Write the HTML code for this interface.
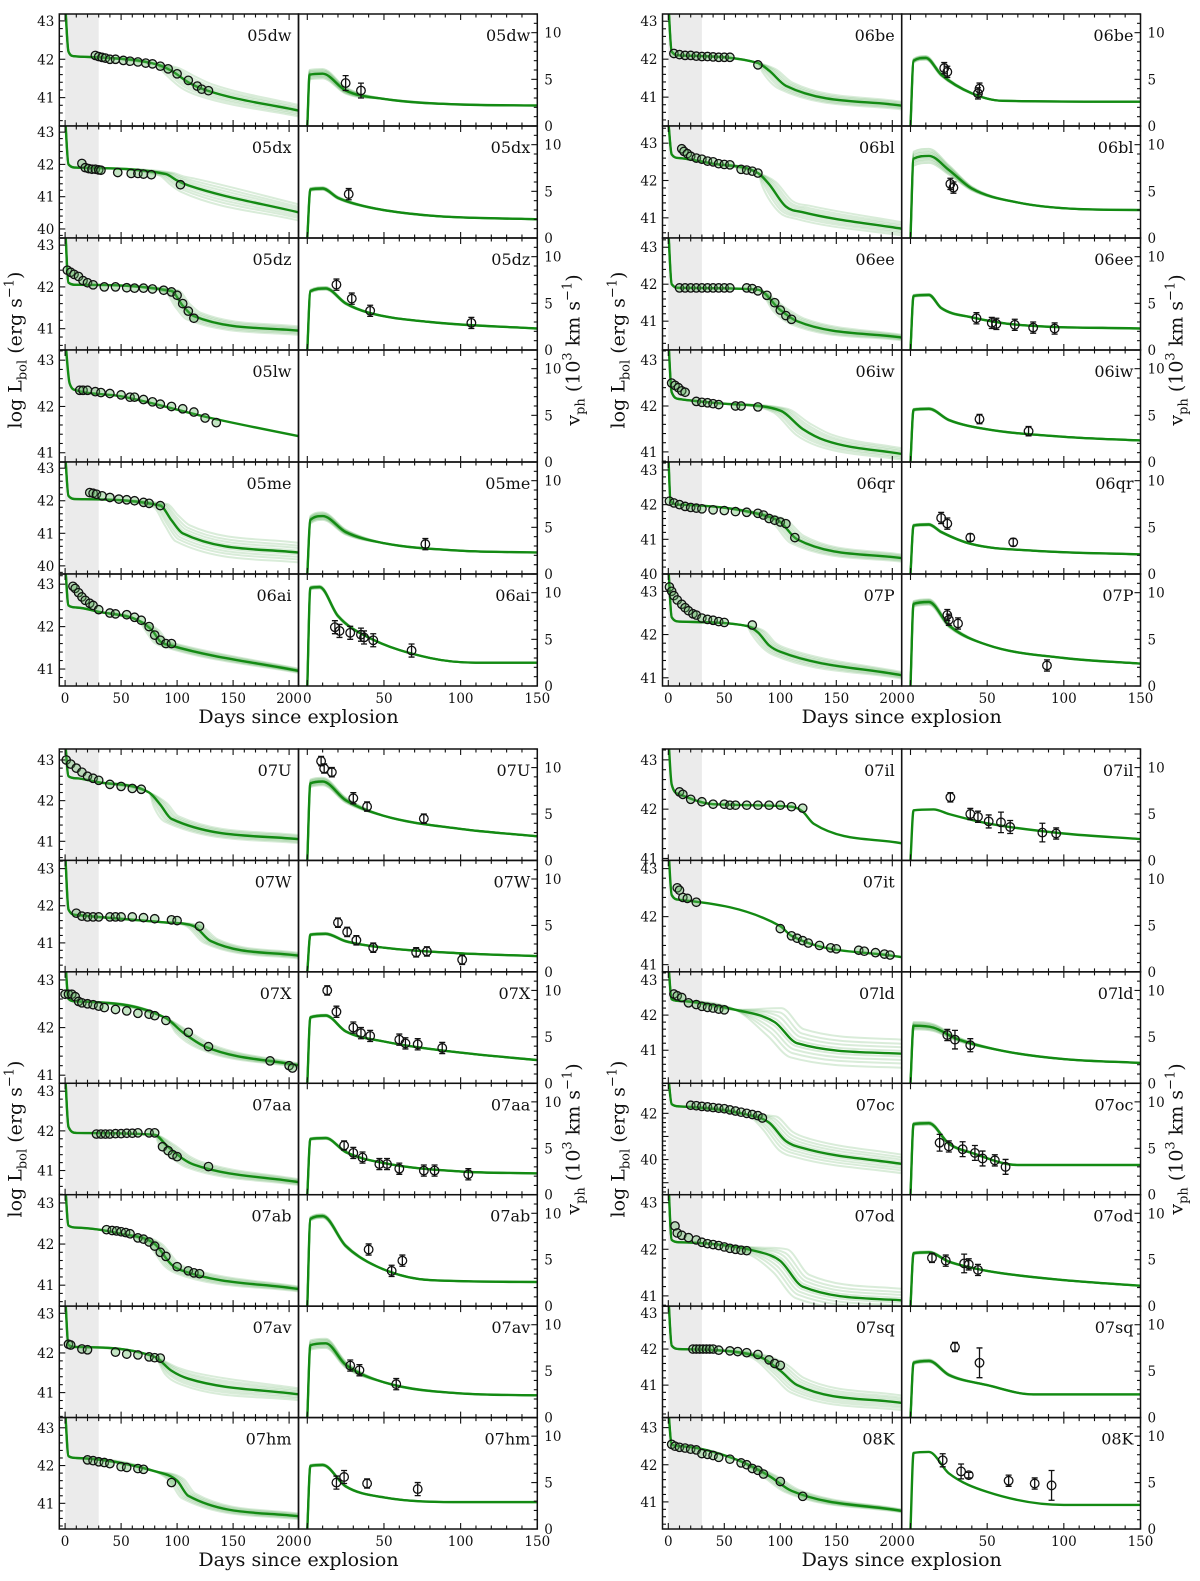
<!DOCTYPE html>
<html><head><meta charset="utf-8">
<style>
html,body{margin:0;padding:0;background:#fff;}
svg{display:block;}
text{font-family:"DejaVu Serif","Liberation Serif",serif;fill:#111;}
</style></head>
<body>
<svg id="fig" xmlns="http://www.w3.org/2000/svg" width="1200" height="1581" viewBox="0 0 1200 1581"></svg>
<script>
// ---------- DATA ----------
const snNames = ["05dw","05dx","05dz","05lw","05me","06ai","06be","06bl","06ee","06iw","06qr","07P",
  "07U","07W","07X","07aa","07ab","07av","07hm","07il","07it","07ld","07oc","07od","07sq","08K"];
const lumRanges = [[40.26,43.18],[39.72,43.19],[40.49,43.17],[40.8,43.22],[39.75,43.19],[40.6,43.24],
  [40.24,43.19],[40.46,43.46],[40.22,43.25],[40.78,43.22],[40.0,43.23],[40.81,43.4],
  [40.53,43.27],[40.22,43.22],[40.83,43.17],[40.39,43.2],[40.49,43.2],[40.37,43.18],[40.32,43.27],
  [40.96,43.22],[40.85,43.17],[40.06,43.23],[38.48,43.3],[40.78,43.17],[40.1,43.19],[40.27,43.27]];
const lumTicks = [[41,42,43],[40,41,42,43],[41,42,43],[41,42,43],[40,41,42,43],[41,42,43],
  [41,42,43],[41,42,43],[41,42,43],[41,42,43],[40,41,42,43],[41,42,43],
  [41,42,43],[41,42,43],[41,42,43],[41,42,43],[41,42,43],[41,42,43],[41,42,43],
  [41,42,43],[41,42,43],[41,42,43],[40,42],[41,42,43],[41,42,43],[41,42,43]];
const lumObs = [
 [[27,42.1],[30,42.07],[33,42.05],[36,42.03],[40,42.0],[45,42.0],[52,41.97],[58,41.95],[65,41.93],[72,41.9],[78,41.88],[85,41.82],[92,41.75],[100,41.62],[110,41.45],[118,41.3],[122,41.22],[128,41.18]],
 [[15,42.03],[18,41.9],[21,41.87],[24,41.85],[27,41.85],[30,41.83],[32,41.82],[47,41.75],[59,41.72],[65,41.72],[70,41.7],[77,41.68],[103,41.37]],
 [[2,42.4],[5,42.35],[8,42.3],[12,42.25],[16,42.15],[20,42.1],[25,42.05],[35,42.0],[45,42.0],[55,41.98],[62,41.97],[70,41.97],[78,41.95],[88,41.92],[95,41.88],[100,41.8],[105,41.6],[110,41.42],[115,41.25]],
 [[13,42.35],[16,42.35],[20,42.35],[27,42.32],[32,42.3],[40,42.28],[50,42.25],[58,42.2],[62,42.2],[70,42.15],[78,42.1],[85,42.05],[95,42.0],[105,41.95],[115,41.88],[125,41.75],[135,41.65]],
 [[22,42.25],[25,42.23],[28,42.2],[33,42.15],[40,42.1],[48,42.05],[55,42.03],[62,42.0],[70,41.95],[75,41.92],[85,41.85]],
 [[7,42.95],[9,42.9],[12,42.8],[15,42.7],[18,42.62],[22,42.55],[25,42.5],[30,42.4],[40,42.32],[45,42.3],[55,42.28],[62,42.22],[68,42.15],[75,42.0],[80,41.8],[85,41.68],[90,41.6],[95,41.6]],
 [[5,42.15],[10,42.12],[15,42.1],[20,42.1],[25,42.08],[30,42.07],[35,42.07],[40,42.06],[45,42.05],[50,42.05],[55,42.05],[80,41.85]],
 [[12,42.85],[14,42.78],[17,42.72],[20,42.65],[25,42.6],[30,42.57],[35,42.52],[40,42.5],[45,42.45],[50,42.43],[55,42.42],[65,42.3],[70,42.28],[75,42.25],[80,42.2]],
 [[10,41.9],[15,41.9],[20,41.9],[25,41.9],[30,41.9],[35,41.9],[40,41.9],[45,41.9],[50,41.9],[55,41.9],[70,41.9],[75,41.88],[80,41.82],[88,41.7],[95,41.5],[100,41.3],[105,41.15],[110,41.05]],
 [[3,42.5],[6,42.45],[9,42.4],[12,42.33],[15,42.3],[25,42.1],[30,42.08],[35,42.07],[40,42.05],[45,42.03],[60,42.0],[65,42.0],[80,41.98]],
 [[1,42.1],[5,42.05],[10,42.0],[15,41.95],[20,41.92],[25,41.9],[30,41.88],[40,41.85],[50,41.83],[60,41.8],[70,41.78],[80,41.75],[85,41.7],[90,41.6],[95,41.55],[100,41.5],[105,41.45],[113,41.05]],
 [[1,43.1],[3,43.0],[5,42.9],[8,42.8],[12,42.7],[15,42.62],[18,42.55],[22,42.48],[25,42.45],[30,42.38],[35,42.35],[40,42.33],[45,42.3],[50,42.28],[75,42.22]],
 [[1,43.0],[5,42.9],[10,42.8],[15,42.7],[20,42.6],[25,42.55],[30,42.5],[40,42.4],[50,42.35],[60,42.3],[68,42.28]],
 [[10,41.8],[15,41.72],[20,41.7],[25,41.7],[30,41.7],[40,41.7],[45,41.7],[50,41.7],[60,41.7],[70,41.68],[80,41.65],[95,41.62],[100,41.6],[120,41.45]],
 [[0,42.7],[3,42.7],[6,42.7],[9,42.65],[12,42.55],[15,42.52],[20,42.5],[25,42.48],[30,42.45],[35,42.42],[45,42.38],[55,42.35],[65,42.3],[75,42.28],[80,42.25],[90,42.15],[110,41.9],[128,41.6],[183,41.3],[200,41.2],[203,41.15]],
 [[28,41.92],[32,41.92],[36,41.92],[40,41.92],[45,41.93],[50,41.93],[55,41.94],[60,41.94],[65,41.95],[75,41.95],[80,41.95],[87,41.6],[92,41.5],[96,41.4],[100,41.35],[128,41.1]],
 [[37,42.35],[42,42.33],[46,42.32],[50,42.3],[54,42.28],[58,42.25],[65,42.15],[70,42.12],[75,42.05],[80,41.95],[85,41.8],[90,41.7],[100,41.45],[110,41.35],[115,41.3],[120,41.28]],
 [[3,42.22],[5,42.2],[15,42.1],[20,42.08],[45,42.02],[55,41.97],[65,41.95],[75,41.9],[80,41.88],[85,41.87]],
 [[20,42.15],[25,42.13],[30,42.1],[35,42.08],[40,42.05],[50,41.97],[55,41.95],[65,41.92],[70,41.9],[95,41.55]],
 [[10,42.35],[13,42.3],[20,42.2],[30,42.15],[40,42.1],[50,42.1],[55,42.08],[60,42.08],[70,42.08],[80,42.08],[90,42.08],[100,42.08],[110,42.05],[120,42.02]],
 [[8,42.6],[10,42.55],[13,42.4],[17,42.38],[25,42.3],[100,41.75],[110,41.6],[115,41.55],[120,41.5],[125,41.45],[135,41.4],[145,41.35],[150,41.33],[170,41.3],[175,41.28],[185,41.25],[193,41.22],[198,41.2]],
 [[5,42.6],[8,42.55],[12,42.5],[18,42.35],[25,42.3],[30,42.25],[35,42.22],[40,42.2],[45,42.17],[50,42.15]],
 [[20,42.35],[25,42.33],[30,42.3],[35,42.28],[40,42.25],[45,42.22],[50,42.2],[55,42.15],[60,42.1],[65,42.05],[70,42.0],[75,41.95],[80,41.9],[84,41.8]],
 [[6,42.5],[8,42.35],[12,42.3],[18,42.25],[25,42.2],[30,42.15],[35,42.12],[40,42.1],[45,42.08],[50,42.05],[55,42.02],[60,42.0],[65,41.98],[70,41.97]],
 [[22,42.0],[25,42.0],[28,42.0],[31,42.0],[34,42.0],[37,42.0],[40,42.0],[45,41.97],[55,41.95],[62,41.93],[70,41.9],[80,41.85],[90,41.7],[95,41.6],[100,41.55]],
 [[3,42.55],[6,42.5],[10,42.47],[15,42.45],[20,42.42],[25,42.4],[30,42.3],[35,42.28],[40,42.25],[45,42.2],[55,42.15],[65,42.05],[70,42.0],[75,41.9],[80,41.85],[85,41.75],[100,41.55],[120,41.15]]
];
const lumModel = [
 [[0,43.5],[3,42.2],[8,42.08],[30,42.05],[80,41.88],[95,41.7],[110,41.4],[125,41.2],[210,40.65]],
 [[0,43.5],[3,42.0],[10,41.9],[90,41.7],[100,41.5],[110,41.35],[210,40.5]],
 [[0,43.5],[3,42.1],[10,42.05],[95,41.9],[105,41.55],[115,41.3],[210,40.95]],
 [[0,43.5],[4,42.5],[10,42.35],[50,42.22],[130,41.75],[210,41.35]],
 [[0,43.5],[3,42.15],[10,42.05],[85,41.85],[95,41.4],[105,41.0],[210,40.4]],
 [[0,43.5],[3,42.5],[10,42.45],[30,42.35],[65,42.15],[78,41.9],[85,41.65],[95,41.55],[210,40.95]],
 [[0,43.5],[3,42.2],[10,42.1],[80,41.9],[90,41.7],[105,41.3],[210,40.77]],
 [[0,43.6],[3,42.7],[10,42.6],[40,42.45],[80,42.2],[90,41.9],[105,41.3],[120,41.15],[210,40.7]],
 [[0,43.5],[3,42.0],[10,41.9],[80,41.85],[100,41.3],[115,41.0],[210,40.55]],
 [[0,43.5],[3,42.3],[10,42.15],[50,42.05],[100,41.9],[120,41.5],[140,41.25],[210,40.95]],
 [[0,43.5],[2,42.1],[10,42.0],[90,41.65],[100,41.5],[115,41.0],[210,40.45]],
 [[0,43.6],[3,42.4],[10,42.3],[70,42.2],[80,42.05],[90,41.75],[100,41.6],[210,41.05]],
 [[0,43.5],[3,42.6],[10,42.55],[30,42.45],[75,42.2],[85,41.9],[95,41.55],[210,41.05]],
 [[0,43.5],[3,41.9],[10,41.75],[90,41.55],[115,41.45],[130,41.05],[210,40.65]],
 [[0,43.5],[3,42.6],[10,42.55],[90,42.2],[105,41.9],[125,41.6],[210,41.2]],
 [[0,43.5],[3,42.1],[10,41.95],[80,41.9],[90,41.65],[105,41.3],[115,41.15],[210,40.7]],
 [[0,43.5],[3,42.45],[10,42.4],[50,42.25],[80,42.0],[95,41.5],[105,41.35],[210,40.9]],
 [[0,43.5],[3,42.2],[10,42.15],[80,41.9],[95,41.55],[110,41.35],[210,40.95]],
 [[0,43.5],[3,42.25],[10,42.2],[80,41.85],[100,41.6],[110,41.2],[210,40.65]],
 [[0,43.5],[3,42.5],[10,42.3],[40,42.1],[110,42.05],[120,41.95],[130,41.7],[210,41.3]],
 [[0,43.5],[3,42.45],[10,42.35],[100,41.8],[110,41.6],[210,41.15]],
 [[0,43.5],[3,42.45],[10,42.4],[60,42.15],[95,41.8],[115,41.2],[210,40.9]],
 [[0,43.6],[3,42.4],[10,42.3],[70,41.95],[90,41.6],[105,40.8],[120,40.5],[210,39.8]],
 [[0,43.5],[3,42.2],[10,42.15],[80,41.95],[100,41.75],[120,41.2],[210,40.9]],
 [[0,43.5],[3,42.1],[10,42.0],[80,41.8],[100,41.4],[115,41.0],[210,40.5]],
 [[0,43.5],[3,42.55],[10,42.5],[60,42.15],[90,41.7],[110,41.3],[210,40.75]]
];
const lumSpread = [0.3,0.5,0.2,0.05,0.6,0.1,0.2,0.35,0.15,0.25,0.2,0.15,0.2,0.15,0.08,0.15,0.12,0.3,0.15,0.05,0.05,0.8,0.8,0.5,0.4,0.08];
const dropDay = [80,85,90,200,80,75,80,80,85,90,85,70,75,110,95,80,75,80,85,115,100,60,70,70,75,85];
const velObs = [
 [[25,4.6,0.8],[35,3.8,0.8]],
 [[27,4.7,0.6]],
 [[19,7.0,0.6],[29,5.5,0.6],[41,4.2,0.6],[107,2.9,0.6]],
 [],
 [[77,3.2,0.6]],
 [[18,6.3,0.7],[21,5.9,0.7],[28,5.7,0.7],[35,5.5,0.7],[37,5.2,0.7],[43,4.9,0.7],[68,3.8,0.7]],
 [[22,6.2,0.6],[24,5.8,0.6],[45,4.0,0.6],[44,3.5,0.6]],
 [[26,5.8,0.6],[28,5.4,0.6]],
 [[43,3.4,0.6],[53,2.9,0.6],[56,2.8,0.6],[68,2.7,0.6],[80,2.4,0.6],[94,2.3,0.6]],
 [[45,4.6,0.5],[77,3.3,0.5]],
 [[20,6.0,0.6],[24,5.4,0.6],[39,3.9,0.4],[67,3.4,0.4]],
 [[24,7.6,0.6],[25,7.1,0.6],[31,6.7,0.6],[89,2.2,0.6]],
 [[9,10.7,0.5],[11,9.9,0.5],[16,9.5,0.5],[30,6.7,0.6],[39,5.8,0.5],[76,4.5,0.5]],
 [[20,5.3,0.5],[26,4.3,0.5],[32,3.4,0.5],[43,2.6,0.5],[71,2.1,0.5],[78,2.2,0.5],[101,1.3,0.5]],
 [[13,10.0,0.5],[19,7.7,0.6],[30,6.0,0.6],[35,5.4,0.6],[41,5.1,0.6],[60,4.7,0.6],[64,4.3,0.6],[72,4.2,0.6],[88,3.8,0.6]],
 [[24,5.3,0.5],[30,4.5,0.6],[36,4.0,0.6],[47,3.3,0.6],[52,3.3,0.6],[60,2.8,0.6],[76,2.6,0.6],[83,2.6,0.6],[105,2.2,0.6]],
 [[40,6.1,0.6],[55,3.8,0.6],[62,4.9,0.6]],
 [[28,5.6,0.6],[34,5.1,0.6],[58,3.6,0.6]],
 [[19,5.0,0.7],[24,5.6,0.7],[39,4.9,0.5],[72,4.3,0.7]],
 [[26,6.8,0.5],[39,5.0,0.6],[44,4.7,0.6],[51,4.2,0.7],[59,4.1,1.1],[65,3.6,0.7],[86,3.0,1.0],[95,2.9,0.6]],
 [],
 [[24,5.2,0.6],[29,4.7,1.0],[39,4.1,0.7]],
 [[19,5.6,0.9],[25,5.2,0.6],[34,4.9,0.8],[42,4.5,0.8],[47,3.9,0.8],[55,3.7,0.6],[62,3.0,0.8]],
 [[14,5.2,0.5],[23,4.9,0.6],[35,4.6,1.0],[38,4.5,0.6],[44,3.9,0.6]],
 [[29,7.6,0.5],[45,5.9,1.6]],
 [[21,7.4,0.7],[33,6.2,0.8],[38,5.8,0.3],[64,5.2,0.6],[81,4.9,0.6],[92,4.7,1.6]]
];
const velModel = [
 [[0,0],[1.5,5.5],[10,5.6],[25,3.8],[50,2.9],[100,2.3],[150,2.2]],
 [[0,0],[2,5.2],[10,5.3],[20,4.3],[40,3.3],[80,2.4],[150,2.0]],
 [[0,0],[2,6.3],[12,6.6],[25,5.0],[40,4.0],[80,3.0],[150,2.3]],
 [],
 [[0,0],[2,5.8],[10,6.2],[25,4.5],[50,3.3],[100,2.5],[150,2.3]],
 [[0,0],[2,10.5],[8,10.6],[20,7.5],[40,5.2],[80,3.0],[110,2.5],[150,2.5]],
 [[0,0],[2,7.0],[10,7.3],[20,5.5],[40,3.5],[60,2.7],[150,2.6]],
 [[0,0],[2,8.5],[12,8.8],[25,7.3],[40,5.3],[70,3.8],[110,3.1],[150,3.0]],
 [[0,0],[2,5.8],[12,5.9],[20,4.5],[40,3.5],[70,2.7],[150,2.3]],
 [[0,0],[2,5.6],[12,5.7],[25,4.5],[50,3.5],[100,2.7],[150,2.3]],
 [[0,0],[2,5.2],[12,5.3],[20,4.5],[40,3.2],[80,2.5],[150,2.1]],
 [[0,0],[2,8.8],[12,9.0],[25,6.5],[50,4.4],[100,3.0],[150,2.4]],
 [[0,0],[2,8.3],[10,8.5],[25,6.5],[50,4.8],[100,3.4],[150,2.6]],
 [[0,0],[2,4.0],[12,4.1],[25,3.3],[50,2.6],[100,2.0],[150,1.7]],
 [[0,0],[2,7.1],[12,7.3],[25,5.6],[50,4.5],[100,3.3],[150,2.5]],
 [[0,0],[2,6.0],[12,6.1],[25,4.6],[50,3.4],[100,2.5],[150,2.3]],
 [[0,0],[2,9.4],[10,9.7],[25,6.5],[45,4.3],[80,2.8],[150,2.6]],
 [[0,0],[2,7.8],[12,8.0],[25,5.7],[50,3.8],[100,2.6],[150,2.4]],
 [[0,0],[2,6.8],[10,6.9],[25,4.6],[50,3.4],[100,2.9],[150,2.9]],
 [[0,0],[2,5.4],[15,5.5],[25,5.0],[50,4.0],[100,2.9],[150,2.3]],
 [],
 [[0,0],[2,6.2],[15,6.0],[30,4.8],[60,3.5],[100,2.6],[150,2.2]],
 [[0,0],[2,7.6],[12,7.7],[25,5.5],[40,4.5],[70,3.2],[150,3.2]],
 [[0,0],[2,5.7],[12,5.8],[25,4.8],[50,3.8],[100,2.8],[150,2.2]],
 [[0,0],[2,5.9],[12,6.1],[25,4.6],[50,3.5],[80,2.5],[150,2.5]],
 [[0,0],[2,8.2],[12,8.3],[25,6.0],[50,4.0],[100,2.6],[150,2.6]]
];
const velSpread = [1.0,0.3,0.3,0,0.8,0.3,0.4,1.5,0.2,0.2,0.2,0.6,0.8,0.2,0.2,0.2,0.4,1.0,0.2,0.1,0,0.8,0.3,0.2,0.3,0.1];
const xTicksL = [0,50,100,150,200];
const xTicksR = [0,50,100,150];
const vTicks = [0,5,10];

// ---------- LAYOUT ----------
const NS = "http://www.w3.org/2000/svg";
const svg = document.getElementById('fig');
const blocks = [
 {x:59.3, y:14, rh:112, n:6, start:0},
 {x:662.5, y:14, rh:112, n:6, start:6},
 {x:59.3, y:749, rh:111.43, n:7, start:12},
 {x:662.5, y:749, rh:111.43, n:7, start:19}
];
const WL = 239.2, WR = 238.8;
const GREEN = "#138a13";
function mk(tag, attrs, parent){
  const e = document.createElementNS(NS, tag);
  for (const k in attrs) e.setAttribute(k, attrs[k]);
  (parent||svg).appendChild(e);
  return e;
}
function lin(d0,d1,p0,p1){ return v => p0 + (v-d0)/(d1-d0)*(p1-p0); }
// monotone cubic interpolation path (Fritsch-Carlson)
function pathOf(pts, fx, fy){
  const P = pts.map(p => [fx(p[0]), fy(p[1])]);
  const n = P.length;
  if (n < 3) return P.map((p,i)=>(i?'L':'M')+p[0].toFixed(1)+' '+p[1].toFixed(1)).join(' ');
  const d = [], m = [];
  for (let i=0;i<n-1;i++){ const dx = P[i+1][0]-P[i][0]; d.push(dx>0 ? (P[i+1][1]-P[i][1])/dx : 0); }
  m[0] = d[0]; m[n-1] = d[n-2];
  for (let i=1;i<n-1;i++){ m[i] = (d[i-1]*d[i] <= 0) ? 0 : (d[i-1]+d[i])/2; }
  for (let i=0;i<n-1;i++){
    if (d[i] === 0){ m[i]=0; m[i+1]=0; continue; }
    const a = m[i]/d[i], b = m[i+1]/d[i], s = a*a+b*b;
    if (s > 9){ const t = 3/Math.sqrt(s); m[i]=t*a*d[i]; m[i+1]=t*b*d[i]; }
  }
  let s = 'M'+P[0][0].toFixed(1)+' '+P[0][1].toFixed(1);
  for (let i=0;i<n-1;i++){
    const h = (P[i+1][0]-P[i][0])/3;
    s += ` C${(P[i][0]+h).toFixed(1)} ${(P[i][1]+m[i]*h).toFixed(1)} ${(P[i+1][0]-h).toFixed(1)} ${(P[i+1][1]-m[i+1]*h).toFixed(1)} ${P[i+1][0].toFixed(1)} ${P[i+1][1].toFixed(1)}`;
  }
  return s;
}
const offs = [-1,-0.7,-0.45,-0.2,0.2,0.45,0.7,1];
let clipId = 0;

function ticksX(g, fx, top, bot, majors, minorStep, dmin, dmax){
  for (let d = Math.ceil(dmin/minorStep)*minorStep; d <= dmax+0.01; d += minorStep){
    const isMaj = majors.indexOf(Math.round(d)) >= 0;
    const L = isMaj ? 6 : 3.5;
    const x = fx(d);
    const t = mk('path', {d:`M${x} ${bot} v${-L} M${x} ${top} v${L}`, stroke:'#111', 'stroke-width':1.1, fill:'none'}, g);
    
    
  }
}

blocks.forEach((B, bi) => {
  const bottom = B.y + B.rh*B.n;
  for (let r = 0; r < B.n; r++){
    const i = B.start + r;
    const top = B.y + r*B.rh, bot = top + B.rh;
    const lx0 = B.x, lx1 = B.x + WL, rx1 = lx1 + WR;
    const last = r === B.n - 1;
    const g = mk('g', {});
    
    

    // ---- luminosity panel ----
    const [lo, hi] = lumRanges[i];
    const fx = lin(0, 1, lx0 + 5.8, lx0 + 5.8 + 1.12);
    const fy = lin(lo, hi, bot, top);
    const cid = 'c' + (clipId++);
    const cp = mk('clipPath', {id:cid}, g);
    mk('rect', {x:lx0, y:top, width:WL, height:B.rh}, cp);
    const lg = mk('g', {'clip-path':`url(#${cid})`}, g);
    
    
    const band = mk('rect', {x:fx(0), y:top, width:fx(30)-fx(0), height:B.rh, fill:'#ebebeb'}, lg);
    
    
    const M = lumModel[i];
    if (lumSpread[i] > 0.06){
      offs.forEach(k => {
        const pts = M.map(p => {
          const dd = p[0] > dropDay[i] && p[0] < 209 ? p[0] + k*6 : p[0];
          const ramp = p[0] > dropDay[i] ? Math.min(1, (p[0]-dropDay[i])/30) : 0;
          return [dd, p[1] + k*lumSpread[i]*0.5*ramp];
        });
        const fl = mk('path', {d:pathOf(pts, fx, fy), stroke:GREEN, 'stroke-opacity':0.16, 'stroke-width':2, fill:'none'}, lg);
        
        
      });
    }
    const ml = mk('path', {d:pathOf(M, fx, fy), stroke:GREEN, 'stroke-width':2.4, fill:'none', 'stroke-linejoin':'round'}, lg);
    
    
    lumObs[i].forEach(p => {
      const c = mk('circle', {cx:fx(p[0]), cy:fy(p[1]), r:4.2, fill:'rgba(90,180,90,0.35)', stroke:'#111', 'stroke-width':1.3}, lg);
      
      
    });
    const fr = mk('rect', {x:lx0, y:top, width:WL, height:B.rh, fill:'none', stroke:'#111', 'stroke-width':1.5}, g);
    
    
    ticksX(g, fx, top, bot, xTicksL, 10, -5, 208);
    for (let v = Math.ceil(lo*5)/5; v <= hi; v += 0.2){
      const maj = Math.abs(v - Math.round(v)) < 0.01;
      const t = mk('path', {d:`M${lx0} ${fy(v)} h${maj?6:3.5}`, stroke:'#111', 'stroke-width':1.1}, g);
      
      
    }
    lumTicks[i].forEach(v => {
      const t = mk('text', {x:lx0-5, y:fy(v)+5, 'text-anchor':'end', 'font-size':13.5}, g);
      t.textContent = String(v);
      
      
    });
    const n1 = mk('text', {x:lx1-7, y:top+27, 'text-anchor':'end', 'font-size':16}, g);
    n1.textContent = snNames[i];
    
    

    // ---- velocity panel ----
    const vx = lin(0, 150, lx1 + 8.8, rx1);
    const vy = lin(0, 12.0, bot, top);
    const cid2 = 'c' + (clipId++);
    const cp2 = mk('clipPath', {id:cid2}, g);
    mk('rect', {x:lx1, y:top, width:WR, height:B.rh}, cp2);
    const vg = mk('g', {'clip-path':`url(#${cid2})`}, g);
    
    
    const VM = velModel[i];
    if (VM.length){
      if (velSpread[i] > 0.15){
        offs.forEach(k => {
          const pts = VM.map(p => {
            const w = p[0] <= 12 && p[0] > 0 ? 1 : (p[0] > 12 && p[0] < 50 ? (50-p[0])/38 : 0);
            return [p[0], p[1] + k*velSpread[i]*0.5*w];
          });
          const fl = mk('path', {d:pathOf(pts, vx, vy), stroke:GREEN, 'stroke-opacity':0.2, 'stroke-width':2, fill:'none'}, vg);
          
          
        });
      }
      const vl = mk('path', {d:pathOf(VM, vx, vy), stroke:GREEN, 'stroke-width':2.4, fill:'none', 'stroke-linejoin':'round'}, vg);
      
      
    }
    velObs[i].forEach(p => {
      const x = vx(p[0]), y = vy(p[1]), e = p[2]*9.3;
      const eb = mk('path', {d:`M${x} ${y-e} V${y+e} M${x-3} ${y-e} h6 M${x-3} ${y+e} h6`, stroke:'#111', 'stroke-width':1.3, fill:'none'}, vg);
      
      
      const c = mk('circle', {cx:x, cy:y, r:4.3, fill:'none', stroke:'#111', 'stroke-width':1.3}, vg);
      
      
    });
    const fr2 = mk('rect', {x:lx1, y:top, width:WR, height:B.rh, fill:'none', stroke:'#111', 'stroke-width':1.5}, g);
    
    
    ticksX(g, vx, top, bot, xTicksR, 10, 0, 150);
    for (let v = 0; v <= 12; v += 1){
      const maj = v % 5 === 0;
      const t = mk('path', {d:`M${rx1} ${vy(v)} h${maj?-6:-3.5}`, stroke:'#111', 'stroke-width':1.1}, g);
      
      
    }
    vTicks.forEach(v => {
      const t = mk('text', {x:rx1+7, y:vy(v)+5, 'font-size':13.5}, g);
      t.textContent = String(v);
      
      
    });
    if (VM.length || velObs[i].length){
      const n2 = mk('text', {x:rx1-7, y:top+27, 'text-anchor':'end', 'font-size':16}, g);
      n2.textContent = snNames[i];
      
      
    }

    if (last){
      xTicksL.forEach(d => {
        const t = mk('text', {x:fx(d), y:bot+17, 'text-anchor':'middle', 'font-size':13.5}, g);
        t.textContent = String(d);
        
        
      });
      xTicksR.forEach(d => {
        const t = mk('text', {x:vx(d), y:bot+17, 'text-anchor':'middle', 'font-size':13.5}, g);
        t.textContent = String(d);
        
        
      });
    }
  }
  const xt = mk('text', {x:B.x+WL, y:bottom+37, 'text-anchor':'middle', 'font-size':19});
  xt.textContent = 'Days since explosion';
  
  
  const midY = B.y + B.rh*B.n/2;
  const yl = mk('text', {x:0, y:0, 'text-anchor':'middle', 'font-size':19, transform:`translate(${B.x-38},${midY}) rotate(-90)`});
  yl.innerHTML = 'log L<tspan font-size="13" dy="5">bol</tspan><tspan dy="-5"> (erg s</tspan><tspan font-size="13" dy="-8">−1</tspan><tspan dy="8">)</tspan>';
  
  
  const vl = mk('text', {x:0, y:0, 'text-anchor':'middle', 'font-size':19, transform:`translate(${B.x+WL+WR+42},${midY}) rotate(-90)`});
  vl.innerHTML = 'v<tspan font-size="13" dy="5">ph</tspan><tspan dy="-5"> (10</tspan><tspan font-size="13" dy="-8">3</tspan><tspan dy="8"> km s</tspan><tspan font-size="13" dy="-8">−1</tspan><tspan dy="8">)</tspan>';
  
  
});
</script>
</body></html>
